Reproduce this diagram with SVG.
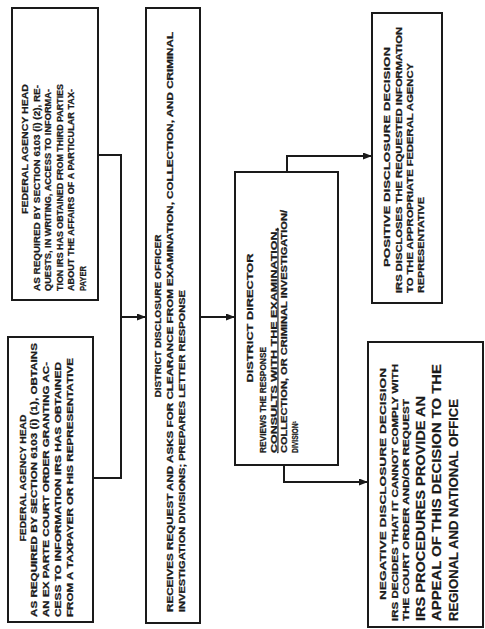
<svg xmlns="http://www.w3.org/2000/svg" width="485" height="629" viewBox="0 0 485 629">
<style>
.box{fill:#fff;stroke:#1a1a1a;stroke-width:2}
.con{fill:none;stroke:#1a1a1a;stroke-width:2}
.t{font-family:"Liberation Sans",Arial,sans-serif;font-weight:bold;fill:#1a1a1a;stroke:#1a1a1a;stroke-width:0.25}
.ti{font-size:9.5px;text-anchor:middle}
.b{font-size:8.5px}
.big{font-family:"Liberation Sans Narrow","Liberation Sans",Arial,sans-serif;font-size:12px;font-weight:bold;fill:#1a1a1a;stroke:#1a1a1a;stroke-width:0.2}
</style>
<defs>
<marker id="ah" markerUnits="userSpaceOnUse" markerWidth="9" markerHeight="7" refX="8" refY="3.5" orient="auto">
<path d="M0,0 L9,3.5 L0,7 z" fill="#1a1a1a"/>
</marker>
</defs>
<rect width="485" height="629" fill="#fff"/>

<g id="connectors">
<path class="con" d="M98,155 H121 V478 H93"/>
<path class="con" d="M121,317 H145" marker-end="url(#ah)"/>
<path class="con" d="M200,317 H234" marker-end="url(#ah)"/>
<path class="con" d="M287,172 V156 H371" marker-end="url(#ah)"/>
<path class="con" d="M284,465 V482 H367" marker-end="url(#ah)"/>
</g>

<g id="fed-agency-2">
<rect class="box" x="12" y="8" width="86" height="292"/>
<text class="t ti" transform="translate(27.5,149) rotate(-90)" textLength="130" lengthAdjust="spacingAndGlyphs">FEDERAL AGENCY HEAD</text>
<text class="t b" transform="translate(39.5,291) rotate(-90)" textLength="206" lengthAdjust="spacingAndGlyphs">AS REQUIRED BY SECTION 6103 (i) (2), RE-</text>
<text class="t b" transform="translate(51,291) rotate(-90)" textLength="202" lengthAdjust="spacingAndGlyphs">QUESTS, IN WRITING, ACCESS TO INFORMA-</text>
<text class="t b" transform="translate(62.5,291) rotate(-90)" textLength="207" lengthAdjust="spacingAndGlyphs">TION IRS HAS OBTAINED FROM THIRD PARTIES</text>
<text class="t b" transform="translate(74,291) rotate(-90)" textLength="202" lengthAdjust="spacingAndGlyphs">ABOUT THE AFFAIRS OF A PARTICULAR TAX-</text>
<text class="t b" transform="translate(85.5,291) rotate(-90)" textLength="25" lengthAdjust="spacingAndGlyphs">PAYER</text>
</g>

<g id="fed-agency-1">
<rect class="box" x="8" y="337" width="85" height="285"/>
<text class="t ti" transform="translate(25.5,478) rotate(-90)" textLength="127" lengthAdjust="spacingAndGlyphs">FEDERAL AGENCY HEAD</text>
<text class="t b" transform="translate(37,617) rotate(-90)" textLength="274" lengthAdjust="spacingAndGlyphs">AS REQUIRED BY SECTION 6103 (i) (1), OBTAINS</text>
<text class="t b" transform="translate(49,617) rotate(-90)" textLength="255" lengthAdjust="spacingAndGlyphs">AN EX PARTE COURT ORDER GRANTING AC-</text>
<text class="t b" transform="translate(61,617) rotate(-90)" textLength="255" lengthAdjust="spacingAndGlyphs">CESS TO INFORMATION IRS HAS OBTAINED</text>
<text class="t b" transform="translate(72.5,617) rotate(-90)" textLength="259" lengthAdjust="spacingAndGlyphs">FROM A TAXPAYER OR HIS REPRESENTATIVE</text>
</g>

<g id="district-disclosure-officer">
<rect class="box" x="146" y="8" width="54" height="615"/>
<text class="t ti" transform="translate(161,316) rotate(-90)" textLength="163" lengthAdjust="spacingAndGlyphs">DISTRICT DISCLOSURE OFFICER</text>
<text class="t b" transform="translate(173,612) rotate(-90)" textLength="580" lengthAdjust="spacingAndGlyphs">RECEIVES REQUEST AND ASKS FOR CLEARANCE FROM EXAMINATION, COLLECTION, AND CRIMINAL</text>
<text class="t b" transform="translate(184.5,612) rotate(-90)" textLength="322" lengthAdjust="spacingAndGlyphs">INVESTIGATION DIVISIONS; PREPARES LETTER RESPONSE</text>
</g>

<g id="district-director">
<rect class="box" x="235" y="172" width="103" height="293"/>
<text class="t ti" transform="translate(253,318) rotate(-90)" textLength="129" lengthAdjust="spacingAndGlyphs">DISTRICT DIRECTOR</text>
<text class="t b" transform="translate(266,453) rotate(-90)" textLength="106" lengthAdjust="spacingAndGlyphs">REVIEWS THE RESPONSE</text>
<text class="t b" transform="translate(276.5,453) rotate(-90)" textLength="225" lengthAdjust="spacingAndGlyphs" text-decoration="underline">CONSULTS  WITH THE EXAMINATION,</text>
<text class="t b" transform="translate(287,453) rotate(-90)" textLength="243" lengthAdjust="spacingAndGlyphs">COLLECTION, OR CRIMINAL INVESTIGATION/</text>
<text class="t b" transform="translate(298,453) rotate(-90)" textLength="32" lengthAdjust="spacingAndGlyphs">DIVISION¹</text>
</g>

<g id="positive-decision">
<rect class="box" x="372" y="13" width="70" height="290"/>
<text class="t ti" transform="translate(390,157) rotate(-90)" textLength="220" lengthAdjust="spacingAndGlyphs">POSITIVE DISCLOSURE DECISION</text>
<text class="t b" transform="translate(401.5,293) rotate(-90)" textLength="266" lengthAdjust="spacingAndGlyphs">IRS DISCLOSES THE REQUESTED INFORMATION</text>
<text class="t b" transform="translate(412.5,293) rotate(-90)" textLength="230" lengthAdjust="spacingAndGlyphs">TO THE APPROPRIATE FEDERAL AGENCY</text>
<text class="t b" transform="translate(424,293) rotate(-90)" textLength="96" lengthAdjust="spacingAndGlyphs">REPRESENTATIVE</text>
</g>

<g id="negative-decision">
<rect class="box" x="368" y="342" width="115" height="285"/>
<text class="t ti" transform="translate(386,484) rotate(-90)" textLength="232" lengthAdjust="spacingAndGlyphs">NEGATIVE DISCLOSURE DECISION</text>
<text class="t b" transform="translate(398,621) rotate(-90)" textLength="257" lengthAdjust="spacingAndGlyphs">IRS DECIDES THAT IT CANNOT COMPLY WITH</text>
<text class="t b" transform="translate(408.5,621) rotate(-90)" textLength="222" lengthAdjust="spacingAndGlyphs">THE COURT ORDER AND/OR REQUEST</text>
<text class="big" transform="translate(424.5,621) rotate(-90)" textLength="225" lengthAdjust="spacingAndGlyphs">IRS PROCEDURES PROVIDE AN</text>
<text class="big" transform="translate(441,621) rotate(-90)" textLength="257" lengthAdjust="spacingAndGlyphs">APPEAL OF THIS DECISION TO THE</text>
<text class="big" transform="translate(457.5,621) rotate(-90)" textLength="222" lengthAdjust="spacingAndGlyphs">REGIONAL AND NATIONAL OFFICE</text>
</g>
</svg>
